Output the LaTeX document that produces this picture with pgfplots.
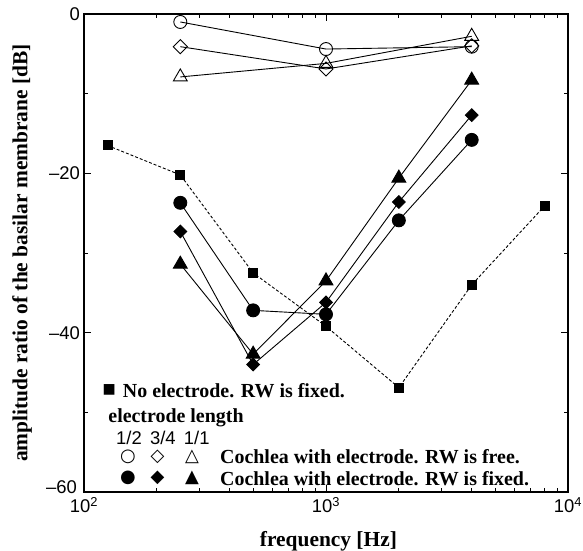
\documentclass[border=0pt]{standalone}
\usepackage{fontspec}
\setmainfont{Liberation Serif}
\newfontfamily\sansf{Liberation Sans}
\newfontfamily\symf{DejaVu Sans}
\usepackage{pgfplots}
\pgfplotsset{compat=1.18}
\begin{document}
\begin{tikzpicture}
\begin{axis}[
  scale only axis, width=484bp, height=478bp,
  xmode=log, xmin=100, xmax=10000, ymin=-60, ymax=0,
  xtick={100,1000,10000},
  xticklabels={{10\textsuperscript{2}},{10\textsuperscript{3}},{10\textsuperscript{4}}},
  minor xtick={200,300,400,500,600,700,800,900,2000,3000,4000,5000,6000,7000,8000,9000},
  ytick={-40,-20,0},
  yticklabels={–40,–20,0},
  extra y ticks={-60},
  extra y tick labels={–60},
  extra y tick style={yticklabel style={yshift=5bp, xshift=-3bp}},
  minor ytick={-50,-30,-10},
  tick align=inside, major tick length=7bp, minor tick length=4bp,
  tick style={black, line width=0.8pt},
  axis line style={line width=1.1pt},
  xlabel={frequency [Hz]},
  ylabel={amplitude ratio of the basilar membrane [dB]},
  label style={font=\fontsize{21.5}{24}\selectfont\bfseries},
  xlabel style={at={(axis description cs:0.505,0)}, anchor=center, yshift=-49bp},
  ylabel style={at={(axis description cs:-0.128,0.5)}, anchor=center},
  ticklabel style={font=\fontsize{18.5}{20}\selectfont\sansf},
  xticklabel style={inner sep=0pt, anchor=north, yshift=-5bp},
  yticklabel style={inner sep=0pt, anchor=east, xshift=-4bp},
  clip=false,
  every axis plot/.append style={black, line width=0.9bp},
]
% no electrode, RW fixed
\addplot[densely dashed, mark=square*, mark size=4.5bp, mark options={solid}]
  coordinates {(125,-16.5)(250,-20.2)(500,-32.5)(1000,-39.2)(2000,-46.9)(4000,-34.0)(8000,-24.1)};
% RW free
\addplot[mark=o, mark size=6.5bp] coordinates {(250,-1.0)(1000,-4.4)(4000,-4.1)};
\addplot[mark=square, mark size=5bp, mark options={rotate=45}] coordinates {(250,-4.1)(1000,-6.9)(4000,-4.0)};
\addplot[mark=triangle, mark size=8bp] coordinates {(250,-7.9)(1000,-6.2)(4000,-2.8)};
% RW fixed
\addplot[mark=*, mark size=6.5bp] coordinates {(250,-23.7)(500,-37.2)(1000,-37.7)(2000,-25.9)(4000,-15.8)};
\addplot[mark=square*, mark size=4.5bp, mark options={rotate=45}] coordinates {(250,-27.3)(500,-44.0)(1000,-36.2)(2000,-23.6)(4000,-12.7)};
\addplot[mark=triangle*, mark size=8bp] coordinates {(250,-31.4)(500,-42.7)(1000,-33.5)(2000,-20.6)(4000,-8.3)};
% legend
\node[anchor=center, font=\symf\fontsize{14}{16}\selectfont, inner sep=0pt] at (axis description cs:0.052,0.213) {■};
\node[anchor=west, font=\fontsize{20}{22}\selectfont\bfseries, inner sep=0pt] at (axis description cs:0.080,0.213) {No electrode. RW is fixed.};
\node[anchor=west, font=\fontsize{20}{22}\selectfont\bfseries, inner sep=0pt] at (axis description cs:0.050,0.155) {electrode length};
\node[anchor=center, font=\fontsize{18.5}{20}\selectfont\sansf, inner sep=0pt] at (axis description cs:0.093,0.113) {1/2};
\node[anchor=center, font=\fontsize{18.5}{20}\selectfont\sansf, inner sep=0pt] at (axis description cs:0.163,0.113) {3/4};
\node[anchor=center, font=\fontsize{18.5}{20}\selectfont\sansf, inner sep=0pt] at (axis description cs:0.233,0.113) {1/1};
\node[anchor=center, font=\symf\fontsize{18}{20}\selectfont, inner sep=0pt] at (axis description cs:0.091,0.073) {○};
\node[anchor=center, font=\symf\fontsize{18}{20}\selectfont, inner sep=0pt] at (axis description cs:0.152,0.073) {◇};
\node[anchor=center, font=\symf\fontsize{18}{20}\selectfont, inner sep=0pt] at (axis description cs:0.223,0.073) {△};
\node[anchor=center, font=\symf\fontsize{18}{20}\selectfont, inner sep=0pt] at (axis description cs:0.091,0.029) {●};
\node[anchor=center, font=\symf\fontsize{18}{20}\selectfont, inner sep=0pt] at (axis description cs:0.152,0.029) {◆};
\node[anchor=center, font=\symf\fontsize{18}{20}\selectfont, inner sep=0pt] at (axis description cs:0.223,0.029) {▲};
\node[anchor=west, font=\fontsize{20}{22}\selectfont\bfseries, inner sep=0pt] at (axis description cs:0.281,0.073) {Cochlea with electrode. RW is free.};
\node[anchor=west, font=\fontsize{20}{22}\selectfont\bfseries, inner sep=0pt] at (axis description cs:0.281,0.029) {Cochlea with electrode. RW is fixed.};
\end{axis}
\pgfresetboundingbox
\path ([xshift=-84bp,yshift=-59bp]current axis.south west) rectangle ([xshift=15bp,yshift=14bp]current axis.north east);
\end{tikzpicture}
\end{document}
